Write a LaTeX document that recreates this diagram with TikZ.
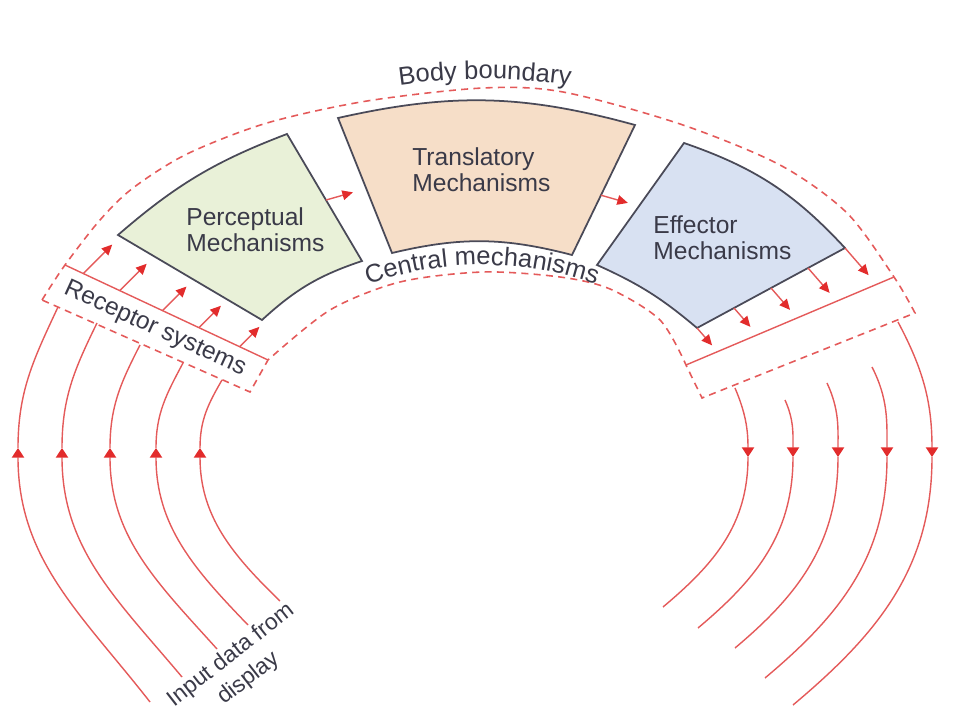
\documentclass[tikz,border=0pt]{standalone}
\usepackage{fontspec}
\setmainfont{Liberation Sans}
\usetikzlibrary{arrows.meta,calc,decorations.text}
\definecolor{lred}{RGB}{228,90,90}
\definecolor{tred}{RGB}{226,44,44}
\definecolor{edge}{RGB}{74,74,88}
\definecolor{ink}{RGB}{58,58,72}
\definecolor{percfill}{RGB}{233,241,216}
\definecolor{transfill}{RGB}{246,222,200}
\definecolor{efffill}{RGB}{216,225,242}
\newcommand{\lblfont}{\fontsize{14}{15}\selectfont}

\begin{document}
\begin{tikzpicture}[x=0.02cm,y=0.02cm,
  box/.style={draw=edge,line width=1pt},
  rline/.style={draw=lred,line width=0.8pt},
  bound/.style={draw=lred,line width=0.9pt,dash pattern=on 4pt off 3pt},
  lbl/.style={text=ink,font=\lblfont,align=left,inner sep=0pt},
  curved/.style={decorate,decoration={text along path,text align=center,text color=ink,text={|\fontsize{14.5}{15}\selectfont|#1}}},
  wide/.style={-{Triangle[length=5.5pt,width=7pt,color=tred]}},
  >={Triangle[length=6pt,width=5.5pt,color=tred]}]
\useasboundingbox (0,0) rectangle (960,720);

\coordinate (pL) at (118,485); \coordinate (pT) at (287,586); \coordinate (pR) at (362,459); \coordinate (pB) at (262,400);
\coordinate (tTL) at (338,602); \coordinate (tTR) at (635,595); \coordinate (tBR) at (572,465); \coordinate (tBL) at (392,467);
\coordinate (eTL) at (684,577); \coordinate (eR) at (845,472); \coordinate (eB) at (697,392); \coordinate (eL) at (597,455);
\coordinate (rA) at (65,455); \coordinate (rB) at (268,360);
\coordinate (oA) at (686,355); \coordinate (oB) at (894,443);

\draw[bound] plot[smooth] coordinates {(42,420) (rA) (100,500) (133,532) (187,566) (267,597) (367,619) (483,632) (563,628) (680,596) (780,555) (847,507) (oB) (915,407)}
  -- (702,322) -- (oA) -- plot[smooth] coordinates {(oA) (660,400) (610,431) (560,443) (483,448) (400,438) (330,410) (rB)} -- (250,328) -- cycle;
\draw[rline] (rA) -- (rB);
\draw[rline] (oA) -- (oB);

\draw[box,fill=percfill] (pL) to[bend left=10] (pT) -- (pR) to[bend right=12] (pB) -- cycle;
\draw[box,fill=transfill] (tTL) to[bend left=14] (tTR) -- (tBR) to[bend right=14] (tBL) -- cycle;
\draw[box,fill=efffill] (eTL) to[bend left=14] (eR) -- (eB) to[bend right=8] (eL) -- cycle;

\node[lbl,anchor=west] (perc) at (186,490) {Perceptual\\Mechanisms};
\node[lbl,anchor=west] (trans) at (412,550) {Translatory\\Mechanisms};
\node[lbl,anchor=west] (eff) at (653,482) {Effector\\Mechanisms};
\node[lbl,rotate=-24.5] (rec) at (155,391) {Receptor systems};
\node[lbl,align=center,rotate=38,font=\fontsize{13}{16.5}\selectfont] (inp) at (240,53) {Input data from\\display};
\path[curved=Body boundary] (485,40) ++(100:601) arc[start angle=100,end angle=80,radius=601];
\path[curved=Central mechanisms] (482,113) ++(125:342) arc[start angle=125,end angle=55,radius=342];

\draw[rline,->] ($(pR)!0.48!(pT)$) -- ++(16:28);
\draw[rline,->] ($(tTR)!0.54!(tBR)$) -- ++(-16:28);
\foreach \f/\l in {0.09/41,0.27/38,0.48/34,0.66/31,0.86/28}
  \draw[rline,->] ($(rA)!\f!(rB)$) -- ++(45:\l);
\foreach \f/\l in {0/23,0.25/25,0.5/29,0.75/33,1/36}
  \draw[rline,->] ($(eB)!\f!(eR)$) -- ++(-49:\l);

\foreach \n/\tx/\ty/\ax/\bx/\by/\ti/\bo in {1/58/413/18/150/18/-115/128,2/97/397/62/182/43/-116/130,3/140/375/110/217/71/-117/132,4/183/357/156/248/95/-118/134,5/222/340/200/280/119/-120/136}{
  \coordinate (ib\n) at (\bx,\by); \coordinate (ia\n) at (\ax,272); \coordinate (it\n) at (\tx,\ty);
  \draw[rline,wide] (ib\n) to[out=\bo,in=-90] (ia\n);
  \draw[rline] (ia\n) to[out=90,in=\ti] (it\n);
}
\foreach \n/\tx/\ty/\ax/\bx/\by/\to/\bi in {1/735/332/748/663/113/-67/40,2/785/320/793/698/92/-66/40,3/827/337/838/735/72/-65/40,4/872/353/887/765/42/-63/40,5/898/398/932/793/15/-62/40}{
  \coordinate (ot\n) at (\tx,\ty); \coordinate (oa\n) at (\ax,263); \coordinate (ob\n) at (\bx,\by);
  \draw[rline,wide] (ot\n) to[out=\to,in=90] (oa\n);
  \draw[rline] (oa\n) to[out=-90,in=\bi] (ob\n);
}
\end{tikzpicture}
\end{document}
